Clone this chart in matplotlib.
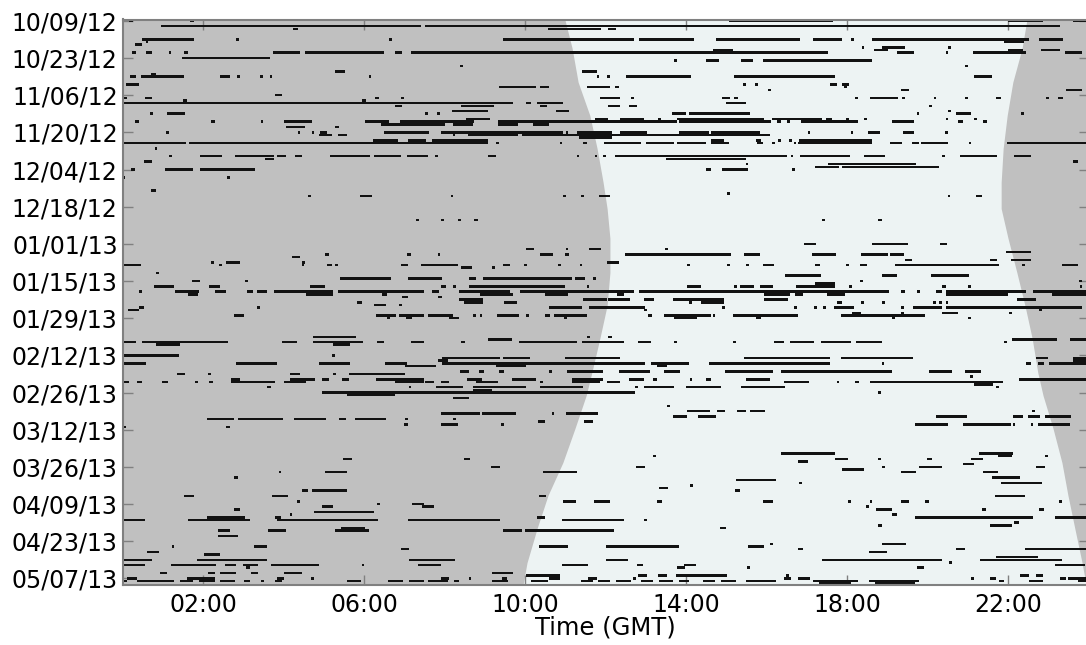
#
# Activity periods vs. time of day, with day/night shading
#
import numpy as np
import matplotlib
matplotlib.use('Agg')
import matplotlib.pyplot as plt


# Day index 0 = 10/09/12, one row per day
date_labels = ['10/09/12', '10/23/12', '11/06/12', '11/20/12', '12/04/12', '12/18/12',
               '01/01/13', '01/15/13', '01/29/13', '02/12/13', '02/26/13', '03/12/13',
               '03/26/13', '04/09/13', '04/23/13', '05/07/13']
hour_ticks = [2, 6, 10, 14, 18, 22]
hour_labels = ['02:00', '06:00', '10:00', '14:00', '18:00', '22:00']

# Sunrise / sunset (GMT hours) at sampled days
sun_day = [-0.5, 10.3, 23.1, 35.6, 48.0, 60.8, 70.7, 81.9, 94.8, 107.2, 119.6,
           132.5, 141.1, 153.6, 166.4, 178.8, 191.2, 204.1, 212.5]
sunrise = [10.99, 11.17, 11.32, 11.61, 11.79, 11.94, 12.04, 12.11, 12.11, 12.04, 11.86,
           11.66, 11.52, 11.24, 10.94, 10.57, 10.30, 10.05, 9.95]
sunset = [22.47, 22.35, 22.12, 21.98, 21.88, 21.83, 21.83, 22.0, 22.22, 22.42, 22.6,
          22.74, 22.87, 23.12, 23.34, 23.49, 23.66, 23.84, 23.94]

# Activity segments: (day, start hour, end hour)
act_oct_nov = [
    (0, 0.16, 0.27), (0, 1.68, 1.78), (0, 15.08, 17.66), (0, 21.99, 22.87), (0, 23.62, 24.0),
    (2, 0.95, 7.41), (2, 7.52, 23.28),
    (3, 4.24, 4.37), (3, 10.57, 11.9), (3, 12.07, 12.27),
    (7, 0.49, 1.78), (7, 2.83, 2.9), (7, 6.62, 6.7), (7, 9.45, 12.7), (7, 12.83, 14.2),
    (7, 14.74, 16.83), (7, 17.16, 17.87), (7, 18.1, 18.18), (7, 18.62, 22.53), (7, 22.78, 23.37),
    (8, 0.58, 0.63), (8, 21.9, 22.4),
    (9, 0.32, 0.49),
    (10, 18.37, 18.43), (10, 18.87, 19.43), (10, 20.52, 20.58),
    (11, 14.68, 15.18), (11, 18.68, 19.03), (11, 21.99, 22.37), (11, 22.83, 23.28),
    (12, 0.24, 0.33), (12, 0.58, 0.74), (12, 1.16, 1.2), (12, 1.52, 1.62), (12, 3.74, 4.41),
    (12, 4.53, 6.49), (12, 6.78, 6.95), (12, 7.16, 17.53), (12, 19.24, 19.66), (12, 20.47, 20.52),
    (12, 21.12, 22.45), (12, 23.41, 23.83),
    (14, 1.49, 3.66),
    (15, 13.7, 13.77), (15, 14.49, 14.83), (15, 15.37, 15.66), (15, 15.91, 18.62),
    (17, 8.38, 8.45), (17, 20.93, 21.0),
    (19, 5.28, 5.53), (19, 11.41, 11.8),
    (20, 0.7, 0.83),
    (21, 0.18, 0.33), (21, 0.47, 1.53), (21, 2.43, 2.66), (21, 2.85, 2.92), (21, 3.41, 3.49),
    (21, 3.66, 3.72), (21, 6.12, 6.18), (21, 11.78, 11.84), (21, 12.03, 12.1), (21, 12.52, 14.13),
    (21, 15.2, 17.7), (21, 21.16, 21.6),
    (24, 0.08, 0.41), (24, 15.41, 15.5), (24, 15.72, 15.8), (24, 17.58, 17.74), (24, 17.87, 18.05),
    (25, 9.35, 10.28), (25, 10.37, 10.6), (25, 11.55, 12.12), (25, 12.24, 12.33), (25, 17.92, 18.0),
    (26, 16.03, 16.1), (26, 19.33, 19.55), (26, 23.45, 23.83),
    (28, 3.78, 3.97),
    (29, 0.0, 0.12), (29, 0.55, 0.74), (29, 6.28, 6.37), (29, 6.93, 7.0), (29, 11.87, 12.37),
    (29, 12.63, 12.7), (29, 14.9, 15.1), (29, 15.2, 15.28), (29, 18.2, 18.27), (29, 18.57, 19.27),
    (29, 19.37, 19.45), (29, 20.16, 20.22), (29, 20.93, 21.0), (29, 21.7, 21.83),
    (29, 22.95, 23.02), (29, 23.24, 23.37),
    (30, 1.5, 1.6), (30, 5.95, 6.05),
    (31, 0.0, 9.7), (31, 10.03, 10.16), (31, 10.3, 10.95), (31, 15.0, 15.5),
    (32, 6.78, 6.95), (32, 8.41, 9.24), (32, 10.37, 10.55), (32, 12.07, 12.37), (32, 12.58, 12.78),
    (32, 20.03, 20.1),
    (34, 8.18, 9.07), (34, 10.77, 11.1), (34, 20.5, 20.58),
    (35, 0.68, 0.77), (35, 1.1, 1.55), (35, 7.52, 7.6), (35, 7.82, 7.9), (35, 13.66, 14.0),
    (35, 14.08, 15.58), (35, 19.73, 19.8), (35, 20.7, 21.08), (35, 22.32, 22.4),
    (37, 8.53, 9.12), (37, 11.74, 12.07), (37, 12.35, 12.95), (37, 13.3, 13.37), (37, 13.78, 15.95),
    (37, 16.13, 17.38), (37, 17.49, 17.62), (37, 17.98, 18.05), (37, 18.42, 18.5),
    (37, 20.45, 20.52), (37, 21.15, 21.22),
    (38, 0.32, 0.41), (38, 2.2, 2.3), (38, 3.43, 3.5), (38, 4.02, 4.7), (38, 6.02, 6.62),
    (38, 6.9, 8.74), (38, 9.33, 13.78), (38, 13.83, 16.12), (38, 16.25, 16.35), (38, 16.5, 16.58),
    (38, 16.85, 17.37), (38, 17.38, 18.27), (38, 19.12, 19.66), (38, 20.77, 20.87), (38, 21.37, 21.47),
    (39, 6.43, 8.0), (39, 8.2, 8.7), (39, 9.33, 9.83), (39, 10.2, 10.6),
    (40, 4.07, 4.53), (40, 5.28, 5.38),
    (42, 1.08, 1.15), (42, 4.37, 4.42), (42, 4.7, 4.75), (42, 4.91, 5.08), (42, 6.49, 7.62),
    (42, 7.91, 10.95), (42, 11.03, 11.08), (42, 11.28, 12.16), (42, 12.37, 13.03), (42, 13.83, 14.58),
    (42, 14.62, 15.49), (42, 15.45, 15.83), (42, 17.02, 17.08), (42, 18.1, 18.16), (42, 18.52, 18.83),
    (42, 19.38, 19.66), (42, 20.43, 20.5),
    (43, 4.88, 5.2), (43, 5.35, 5.58), (43, 8.2, 8.27), (43, 8.58, 9.83), (43, 9.93, 16.08),
    (44, 11.33, 12.16),
    (45, 6.22, 6.85), (45, 7.1, 7.53), (45, 7.7, 9.07), (45, 14.62, 14.95), (45, 15.74, 15.87),
    (45, 16.28, 16.35), (45, 16.57, 16.63), (45, 16.8, 18.63),
    (46, 0.0, 1.58), (46, 1.66, 9.07), (46, 9.28, 9.35), (46, 10.87, 10.93), (46, 11.45, 11.53),
    (46, 11.97, 12.87), (46, 13.0, 13.7), (46, 13.77, 14.49), (46, 14.62, 15.08), (46, 15.77, 15.91),
    (46, 16.13, 16.2), (46, 16.68, 16.73), (46, 16.78, 18.62), (46, 19.08, 19.37), (46, 19.62, 19.78),
    (46, 19.83, 20.52), (46, 21.02, 21.08), (46, 21.97, 24.0),
    (48, 0.8, 0.85),
    (51, 1.16, 1.22), (51, 1.93, 2.47), (51, 2.8, 3.77), (51, 3.85, 4.07), (51, 4.28, 4.45),
    (51, 5.16, 6.16), (51, 6.24, 6.91), (51, 7.08, 7.58), (51, 7.77, 7.83), (51, 9.07, 9.28),
    (51, 11.28, 11.35), (51, 11.74, 11.8), (51, 11.93, 12.0), (51, 12.24, 16.52), (51, 16.6, 16.67),
    (51, 16.83, 18.08), (51, 18.41, 18.95), (51, 20.37, 20.43), (51, 20.8, 21.72), (51, 22.16, 22.58),
    (52, 3.55, 3.77), (52, 13.5, 15.5),
]

act_dec_jan = [
    (53, 0.53, 0.74), (53, 23.62, 23.74),
    (54, 15.49, 15.55), (54, 17.52, 19.72),
    (55, 17.2, 17.8), (55, 17.88, 20.28),
    (56, 0.22, 0.3), (56, 1.06, 1.76), (56, 1.93, 3.28), (56, 14.49, 14.62), (56, 14.9, 15.53),
    (56, 16.64, 16.7),
    (59, 0.0, 0.05), (59, 2.6, 2.66),
    (64, 0.7, 0.83),
    (65, 15.02, 15.1),
    (66, 4.6, 4.68), (66, 5.91, 6.2), (66, 8.16, 8.22), (66, 10.95, 11.02), (66, 11.4, 11.47),
    (66, 11.85, 12.12), (66, 20.5, 20.56), (66, 21.2, 21.35),
    (75, 7.28, 7.36), (75, 7.91, 7.99), (75, 8.33, 8.41), (75, 8.74, 8.82), (75, 17.38, 17.45),
    (75, 18.78, 18.88),
    (84, 16.93, 17.24), (84, 18.63, 19.52), (84, 20.3, 20.49),
    (86, 10.03, 10.22), (86, 11.02, 11.08), (86, 11.6, 11.88), (86, 13.49, 13.55),
    (87, 21.95, 22.58),
    (88, 5.03, 5.12), (88, 7.08, 7.18), (88, 7.83, 7.9), (88, 10.38, 10.7), (88, 11.0, 11.1),
    (88, 12.49, 15.13), (88, 15.45, 15.83), (88, 17.12, 17.72), (88, 18.35, 19.03), (88, 19.08, 19.41),
    (89, 4.2, 4.41),
    (90, 19.45, 19.62), (90, 21.55, 21.72), (90, 22.08, 22.58),
    (91, 2.2, 2.28), (91, 2.58, 2.93), (91, 4.45, 4.53), (91, 12.03, 12.33),
    (92, 0.0, 0.45), (92, 2.4, 2.47), (92, 4.45, 4.52), (92, 5.08, 5.2), (92, 5.28, 5.35),
    (92, 6.91, 7.1), (92, 7.41, 8.33), (92, 9.45, 9.62), (92, 9.98, 10.05), (92, 10.83, 10.9),
    (92, 11.37, 11.42), (92, 14.03, 14.1), (92, 15.03, 15.1), (92, 15.5, 15.57), (92, 15.91, 16.18),
    (92, 17.2, 17.33), (92, 17.98, 18.05), (92, 18.33, 18.5), (92, 19.2, 21.78), (92, 22.35, 22.42),
    (92, 23.33, 23.74),
    (93, 8.41, 8.68), (93, 9.18, 9.25),
    (95, 0.82, 0.9),
    (96, 16.45, 17.35), (96, 18.87, 19.24), (96, 20.08, 21.03),
    (97, 5.41, 6.66), (97, 7.1, 7.95), (97, 8.62, 8.78), (97, 8.95, 11.16), (97, 11.24, 11.49),
    (97, 11.7, 11.77),
    (98, 1.72, 1.93), (98, 3.05, 3.13), (98, 18.33, 18.4), (98, 23.77, 23.85),
    (99, 17.2, 17.7),
    (100, 0.78, 1.28), (100, 2.16, 2.41), (100, 4.66, 5.03), (100, 7.91, 8.03), (100, 8.2, 8.28),
    (100, 8.62, 11.0), (100, 11.53, 11.6), (100, 14.03, 14.37), (100, 15.2, 15.27), (100, 15.33, 15.7),
    (100, 15.83, 16.16), (100, 16.74, 17.7), (100, 18.05, 18.12), (100, 20.37, 20.45),
    (100, 21.0, 21.07), (100, 23.78, 23.85),
    (102, 0.41, 0.49), (102, 1.3, 1.91), (102, 2.3, 2.58), (102, 3.1, 3.24), (102, 3.33, 3.58),
    (102, 3.77, 5.22), (102, 5.35, 7.49), (102, 7.7, 7.87), (102, 8.35, 9.62), (102, 9.87, 12.7),
    (102, 12.83, 19.05), (102, 19.33, 19.45), (102, 19.75, 19.82), (102, 20.2, 20.37),
    (102, 20.45, 22.45), (102, 22.62, 24.0),
    (103, 1.62, 1.87), (103, 4.55, 5.22), (103, 6.45, 6.58), (103, 8.87, 9.7), (103, 10.49, 11.08),
    (103, 12.28, 12.45), (103, 15.95, 16.58), (103, 16.7, 16.9), (103, 17.5, 17.95),
    (103, 20.45, 22.0), (103, 23.1, 24.0),
    (104, 6.95, 7.1), (104, 7.85, 7.93),
    (105, 8.35, 8.95), (105, 11.45, 12.03), (105, 12.07, 12.62), (105, 12.95, 13.2),
    (105, 13.68, 14.95), (105, 15.95, 16.53), (105, 22.22, 22.7),
    (106, 5.83, 5.95), (106, 8.49, 8.95), (106, 9.49, 9.8), (106, 14.08, 14.15), (106, 14.37, 14.95),
    (106, 17.74, 17.88), (106, 18.36, 18.42), (106, 18.88, 18.95), (106, 20.13, 20.2),
    (106, 20.28, 20.35), (106, 20.45, 20.52),
    (107, 6.26, 6.55), (107, 6.88, 6.95),
    (108, 0.41, 0.53), (108, 3.35, 3.42), (108, 10.6, 11.41), (108, 11.6, 12.99), (108, 14.9, 14.97),
    (108, 16.68, 16.75), (108, 17.18, 17.25), (108, 17.41, 17.48), (108, 17.68, 18.18),
    (108, 19.35, 19.42), (108, 19.63, 20.35), (108, 20.45, 23.85),
    (109, 0.13, 0.41), (109, 12.95, 13.02), (109, 22.78, 22.85),
    (110, 18.13, 18.35), (110, 19.35, 19.42), (110, 20.37, 20.77), (110, 22.03, 22.1),
    (111, 2.78, 3.02), (111, 6.3, 6.8), (111, 6.87, 7.49), (111, 7.6, 8.2), (111, 8.72, 8.78),
    (111, 8.88, 8.93), (111, 9.3, 9.85), (111, 10.03, 10.1), (111, 10.49, 10.62), (111, 10.72, 11.53),
    (111, 13.05, 13.16), (111, 13.45, 14.62), (111, 14.68, 14.73), (111, 15.18, 16.78),
    (111, 17.85, 19.95),
    (112, 6.57, 6.65), (112, 7.05, 7.2), (112, 8.12, 8.37), (112, 10.98, 11.05), (112, 13.7, 14.28),
    (112, 15.74, 15.87), (112, 19.12, 19.2), (112, 21.0, 21.08),
]

act_feb_mar = [
    (119, 4.74, 5.8), (119, 11.53, 11.62), (119, 12.07, 12.16),
    (120, 9.07, 9.68), (120, 22.1, 23.22), (120, 23.53, 24.0),
    (121, 0.0, 0.33), (121, 0.49, 2.63), (121, 3.97, 4.33), (121, 4.74, 5.97), (121, 6.33, 6.49),
    (121, 7.16, 7.49), (121, 8.41, 8.52), (121, 9.85, 11.28), (121, 11.41, 12.45), (121, 12.8, 13.13),
    (121, 13.7, 13.77), (121, 15.16, 15.24), (121, 16.18, 16.43), (121, 16.58, 17.18),
    (121, 17.35, 18.1), (121, 18.22, 18.88), (121, 21.91, 21.98),
    (122, 0.83, 1.43), (122, 5.24, 5.66),
    (126, 0.0, 1.41), (126, 5.2, 5.28),
    (127, 7.95, 9.37), (127, 9.45, 10.13), (127, 11.0, 12.37), (127, 15.45, 17.58),
    (127, 17.85, 19.63), (127, 22.7, 23.0), (127, 23.62, 24.0),
    (128, 7.83, 8.08), (128, 23.62, 24.0),
    (129, 0.0, 0.58), (129, 2.83, 3.85), (129, 4.88, 5.66), (129, 6.53, 7.08), (129, 7.95, 12.99),
    (129, 13.12, 14.08), (129, 14.58, 17.58), (129, 18.87, 18.93), (129, 22.45, 22.58),
    (129, 22.74, 22.9), (129, 23.03, 24.0),
    (130, 7.02, 7.78), (130, 9.28, 10.03), (130, 13.28, 13.53),
    (132, 8.38, 8.62), (132, 8.85, 8.97), (132, 9.35, 9.49), (132, 10.6, 10.67), (132, 11.05, 11.93),
    (132, 12.33, 13.1), (132, 13.45, 13.85), (132, 14.98, 16.16), (132, 16.37, 19.13),
    (132, 20.03, 20.62), (132, 20.93, 21.33),
    (133, 1.35, 1.55), (133, 2.13, 2.2), (133, 4.16, 4.41), (133, 5.22, 5.3), (133, 5.62, 7.03),
    (134, 21.05, 21.12),
    (135, 2.7, 2.91), (135, 4.16, 4.78), (135, 4.95, 5.12), (135, 5.45, 5.62), (135, 6.3, 7.49),
    (135, 8.55, 8.93), (135, 9.68, 10.28), (135, 11.16, 11.93), (135, 12.58, 12.95),
    (135, 13.18, 13.28), (135, 14.1, 14.16), (135, 14.49, 14.62), (135, 15.49, 16.08),
    (135, 22.28, 24.0),
    (136, 0.0, 0.16), (136, 0.35, 0.49), (136, 0.99, 1.12), (136, 1.8, 1.87), (136, 2.16, 2.24),
    (136, 2.7, 3.8), (136, 4.02, 4.55), (136, 6.78, 7.49), (136, 7.52, 7.74), (136, 7.91, 8.12),
    (136, 8.78, 9.33), (136, 10.37, 10.45), (136, 11.16, 11.87), (136, 12.03, 12.37),
    (136, 16.43, 17.05), (136, 17.74, 17.8), (136, 18.2, 18.3), (136, 18.57, 21.88),
    (137, 21.15, 21.62),
    (138, 3.6, 3.68), (138, 7.11, 7.18), (138, 7.78, 8.45), (138, 8.7, 10.03), (138, 10.37, 11.45),
    (138, 12.74, 12.8), (138, 12.95, 13.7), (138, 14.0, 14.87), (138, 15.37, 16.45),
    (138, 21.7, 21.77),
    (139, 8.7, 9.18),
    (140, 4.95, 12.74), (140, 18.78, 18.85),
    (141, 5.58, 6.78),
    (142, 8.2, 8.62),
    (145, 13.52, 13.6),
    (147, 14.02, 14.6), (147, 14.78, 14.97), (147, 15.27, 15.49), (147, 15.58, 15.97),
    (147, 22.6, 22.66),
    (148, 7.91, 8.87), (148, 8.93, 9.78), (148, 10.66, 10.72), (148, 11.02, 11.82),
    (149, 13.68, 14.02), (149, 14.3, 14.74), (149, 20.22, 20.99), (149, 22.12, 22.37),
    (149, 22.49, 22.8), (149, 22.93, 23.57),
    (150, 2.1, 2.78), (150, 2.88, 3.99), (150, 4.27, 5.05), (150, 5.38, 5.55), (150, 5.77, 6.55),
    (150, 7.03, 7.1), (150, 8.2, 8.28),
    (151, 10.33, 10.49), (151, 11.47, 11.7),
    (152, 6.99, 7.1), (152, 7.91, 8.33), (152, 9.41, 9.49), (152, 19.7, 20.52), (152, 20.88, 22.08),
    (152, 22.12, 22.18), (152, 22.57, 22.63), (152, 22.74, 23.55),
    (153, 0.0, 0.08), (153, 2.58, 2.66),
    (163, 16.35, 17.7), (163, 21.28, 22.13),
    (164, 13.18, 13.25), (164, 21.74, 22.1), (164, 22.93, 23.0),
    (165, 5.47, 5.7), (165, 8.49, 8.63), (165, 17.7, 18.02), (165, 18.78, 18.85),
    (165, 19.99, 20.1), (165, 21.07, 21.37),
    (166, 16.78, 17.03),
    (167, 20.88, 21.15),
    (168, 9.16, 9.38), (168, 12.77, 12.99), (168, 18.87, 18.94), (168, 19.8, 20.35),
    (168, 22.7, 22.93),
    (169, 17.87, 18.43),
    (170, 3.88, 3.93), (170, 5.02, 5.58), (170, 10.45, 11.3), (170, 19.35, 19.72),
    (170, 21.37, 21.74),
    (172, 2.78, 2.87), (172, 21.6, 22.3),
    (173, 15.24, 16.24),
]

act_apr_may = [
    (174, 16.8, 16.87), (174, 21.83, 22.85),
    (175, 14.1, 14.17),
    (176, 13.32, 13.55),
    (177, 4.45, 4.6), (177, 4.72, 5.58), (177, 15.22, 15.35),
    (179, 1.53, 1.78), (179, 3.72, 4.1), (179, 10.35, 10.52), (179, 21.68, 22.43),
    (181, 4.33, 4.4), (181, 10.95, 11.27), (181, 11.72, 12.1), (181, 13.28, 13.4),
    (181, 15.91, 16.16), (181, 18.03, 18.1), (181, 18.57, 18.63), (181, 19.33, 19.55),
    (181, 19.93, 20.03), (181, 23.27, 23.35),
    (182, 6.33, 6.4), (182, 7.2, 7.49),
    (183, 4.95, 5.24), (183, 7.43, 7.74), (183, 18.47, 18.55),
    (184, 2.77, 2.91), (184, 18.72, 19.12), (184, 21.35, 21.45), (184, 22.77, 22.9),
    (185, 4.77, 6.24),
    (186, 4.16, 4.2), (186, 19.13, 19.24),
    (187, 2.1, 3.05), (187, 3.8, 3.93), (187, 10.3, 10.49), (187, 19.7, 22.62), (187, 23.16, 24.0),
    (188, 0.0, 0.55), (188, 1.62, 3.18), (188, 3.85, 6.35), (188, 7.1, 9.38), (188, 10.91, 12.47),
    (188, 12.95, 13.02),
    (189, 22.16, 22.27),
    (190, 18.77, 18.88), (190, 21.55, 22.1),
    (191, 5.43, 6.02), (191, 14.85, 15.0),
    (192, 2.37, 2.66), (192, 3.62, 4.07), (192, 5.27, 6.13), (192, 9.45, 9.93), (192, 9.99, 12.22),
    (194, 2.37, 2.88),
    (197, 16.08, 16.15), (197, 18.87, 19.47),
    (198, 1.22, 1.28), (198, 3.27, 3.58), (198, 10.35, 11.08), (198, 12.02, 13.83),
    (198, 15.53, 15.93),
    (199, 6.93, 7.13), (199, 16.78, 16.91), (199, 20.7, 20.93), (199, 22.41, 24.0),
    (200, 0.62, 0.91), (200, 18.55, 18.99),
    (201, 2.03, 2.43), (201, 23.95, 24.0),
    (202, 21.7, 22.75),
    (203, 0.0, 0.74), (203, 1.85, 3.58), (203, 7.12, 8.27), (203, 12.02, 12.55),
    (203, 17.38, 20.37), (203, 21.3, 23.33),
    (204, 20.53, 20.6),
    (205, 0.0, 0.55), (205, 1.2, 2.33), (205, 2.55, 2.83), (205, 3.0, 3.37), (205, 3.68, 4.87),
    (205, 5.95, 6.0), (205, 7.33, 7.91), (205, 10.93, 11.57), (205, 12.78, 12.92),
    (205, 13.95, 14.24), (205, 23.16, 23.91),
    (206, 3.08, 3.16), (206, 13.77, 13.97), (206, 15.52, 15.6), (206, 19.74, 19.91),
    (208, 0.93, 1.1), (208, 2.13, 2.3), (208, 2.43, 2.83), (208, 3.2, 3.37), (208, 4.02, 4.45),
    (208, 9.18, 9.7),
    (209, 10.03, 10.87), (209, 12.8, 13.03), (209, 13.3, 13.53), (209, 13.74, 15.03),
    (209, 16.49, 16.57), (209, 22.3, 22.53), (209, 22.7, 22.87),
    (210, 0.1, 0.35), (210, 1.6, 2.3), (210, 3.83, 4.02), (210, 4.68, 4.75), (210, 7.91, 8.12),
    (210, 8.6, 8.67), (210, 9.43, 9.55), (210, 10.6, 10.88), (210, 11.57, 11.78), (210, 12.68, 12.75),
    (210, 16.43, 16.62), (210, 16.78, 17.08), (210, 21.08, 21.16), (210, 21.55, 21.7),
    (210, 23.28, 23.45), (210, 23.49, 24.0),
    (211, 0.0, 0.12), (211, 0.37, 1.28), (211, 1.43, 1.74), (211, 1.91, 2.3), (211, 2.43, 2.8),
    (211, 3.02, 3.16), (211, 3.45, 3.52), (211, 3.8, 3.97), (211, 5.58, 5.93), (211, 6.6, 6.97),
    (211, 7.12, 7.49), (211, 7.6, 8.08), (211, 8.24, 8.35), (211, 9.18, 9.58), (211, 10.16, 10.58),
    (211, 11.38, 11.7), (211, 11.82, 12.12), (211, 12.27, 12.63), (211, 12.87, 13.18),
    (211, 13.32, 13.68), (211, 13.82, 14.07), (211, 14.43, 14.72), (211, 14.87, 15.24),
    (211, 15.49, 16.24), (211, 17.16, 18.28), (211, 18.55, 19.78), (211, 21.78, 21.91),
    (211, 22.53, 22.87), (211, 23.74, 24.0),
    (212, 17.3, 18.1), (212, 18.7, 19.7),
]


# Create plot
fig = plt.figure(figsize=(10.86, 6.45), dpi=100)
ax = fig.add_axes([122.5/1086, 1 - 585/645, 966/1086, 565.5/645])
ax.set_facecolor('#c0c0c0')
ax.fill_betweenx(sun_day, sunrise, sunset, color='#edf3f3', lw=0, zorder=1)

for block in (act_oct_nov, act_dec_jan, act_feb_mar, act_apr_may):
    seg = np.array(block)
    ax.barh(seg[:, 0], seg[:, 2] - seg[:, 1], left=seg[:, 1], height=0.95,
            color='#121212', lw=0, zorder=2)

ax.set_xlim(0, 24)
ax.set_ylim(212.5, -0.5)
ax.set_xticks(hour_ticks)
ax.set_xticklabels(hour_labels)
ax.set_yticks(np.arange(0, 14*len(date_labels), 14))
ax.set_yticklabels(date_labels)
ax.tick_params(direction='in', length=7, width=1, color='#808080',
               top=True, right=True, labelsize=17)
ax.tick_params(axis='y', pad=3.5)
ax.tick_params(axis='x', pad=6)
for s in ax.spines.values():
    s.set_color('#808080')
    s.set_linewidth(1.5)
ax.set_xlabel('Time (GMT)', fontsize=17.5, labelpad=-1)

plt.savefig('out.png', dpi=100)
plt.close(fig)
